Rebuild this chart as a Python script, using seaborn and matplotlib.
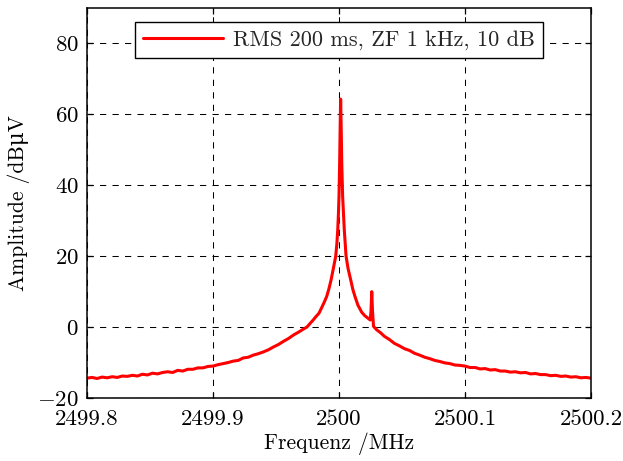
import matplotlib
matplotlib.use("Agg")
import matplotlib.pyplot as plt
import seaborn as sns
import pandas as pd

# Measured spectrum around the 2.5 GHz carrier (frequency in MHz, level in dBµV)
freq_left = [
    2499.800, 2499.804, 2499.808, 2499.812, 2499.816, 2499.820, 2499.824, 2499.828,
    2499.832, 2499.836, 2499.840, 2499.844, 2499.848, 2499.852, 2499.856, 2499.860,
    2499.864, 2499.868, 2499.872, 2499.876, 2499.880, 2499.884, 2499.888, 2499.892,
    2499.896, 2499.900, 2499.904, 2499.908, 2499.912, 2499.916, 2499.920, 2499.924,
    2499.928, 2499.932, 2499.936, 2499.940, 2499.944, 2499.948, 2499.952, 2499.956,
    2499.960, 2499.964, 2499.968, 2499.972, 2499.9745, 2499.9770, 2499.9795, 2499.9818,
    2499.9841, 2499.9860, 2499.9880, 2499.9902, 2499.9920, 2499.9937, 2499.9955,
    2499.9974, 2499.9983, 2499.9990, 2499.99955,
]
level_left = [
    -14.4, -14.2, -14.5, -14.1, -14.3, -14.0, -14.2, -13.8,
    -13.9, -13.6, -13.8, -13.3, -13.5, -13.0, -13.2, -12.8,
    -12.6, -12.8, -12.2, -12.4, -11.9, -11.9, -11.5, -11.5,
    -11.1, -11.0, -10.6, -10.3, -10.0, -9.6, -9.4, -8.7,
    -8.5, -7.9, -7.5, -7.0, -6.4, -5.6, -4.9, -4.0,
    -3.2, -2.2, -1.4, -0.5, 0.0, 1.0, 2.0, 3.0,
    3.9, 5.3, 6.8, 8.6, 10.8, 13.3, 16.5,
    20.0, 23.5, 27.4, 32.0,
]

freq_peak = [
    2500.0000, 2500.0005, 2500.0010, 2500.0013, 2500.0017, 2500.0022, 2500.0029,
    2500.0042, 2500.0056, 2500.0072, 2500.0093, 2500.0110, 2500.0127, 2500.0150,
    2500.0180, 2500.0205, 2500.0230, 2500.0248, 2500.0254, 2500.0260, 2500.0266,
    2500.0274,
]
level_peak = [
    36.8, 46.0, 58.0, 64.3, 57.0, 46.0, 36.8,
    27.4, 20.0, 16.5, 13.3, 10.6, 8.6, 6.2,
    4.2, 3.2, 2.5, 2.0, 4.5, 10.0, 4.5,
    0.2,
]

freq_right = [
    2500.030, 2500.033, 2500.036, 2500.040, 2500.044, 2500.048, 2500.052, 2500.056,
    2500.060, 2500.064, 2500.068, 2500.072, 2500.076, 2500.080, 2500.084, 2500.088,
    2500.092, 2500.096, 2500.100, 2500.104, 2500.108, 2500.112, 2500.116, 2500.120,
    2500.124, 2500.128, 2500.132, 2500.136, 2500.140, 2500.144, 2500.148, 2500.152,
    2500.156, 2500.160, 2500.164, 2500.168, 2500.172, 2500.176, 2500.180, 2500.184,
    2500.188, 2500.192, 2500.196, 2500.200,
]
level_right = [
    -0.8, -1.6, -2.6, -3.5, -4.6, -5.3, -6.1, -6.6,
    -7.4, -7.9, -8.5, -8.9, -9.4, -9.7, -10.1, -10.3,
    -10.7, -10.8, -11.0, -11.4, -11.4, -11.8, -11.7, -12.1,
    -12.0, -12.4, -12.4, -12.7, -12.6, -12.9, -12.8, -13.2,
    -13.1, -13.4, -13.4, -13.7, -13.6, -13.9, -13.8, -14.1,
    -14.0, -14.3, -14.2, -14.4,
]

series_label = "RMS 200 ms, ZF 1 kHz, 10 dB"
x_ticks = [2499.8, 2499.9, 2500.0, 2500.1, 2500.2]
x_tick_labels = ["2499.8", "2499.9", "2500", "2500.1", "2500.2"]
y_ticks = [-20, 0, 20, 40, 60, 80]
y_tick_labels = [r"$-20$", r"$0$", r"$20$", r"$40$", r"$60$", r"$80$"]

df = pd.DataFrame({
    "freq": freq_left + freq_peak + freq_right,
    "level": level_left + level_peak + level_right,
})

sns.set_theme(style="white")
plt.rcParams["font.family"] = ["cmr10", "DejaVu Serif"]
plt.rcParams["mathtext.fontset"] = "cm"
plt.rcParams["axes.formatter.use_mathtext"] = True
plt.rcParams["axes.unicode_minus"] = False

fig = plt.figure(figsize=(6.23, 4.61), dpi=100)
ax = fig.add_axes([87 / 623, 63 / 461, 504 / 623, 390 / 461])

sns.lineplot(data=df, x="freq", y="level", ax=ax, color="#ff0000",
             linewidth=2.2, label=series_label, sort=False)

ax.set_xlim(2499.8, 2500.2)
ax.set_ylim(-20, 90)
ax.set_xticks(x_ticks)
ax.set_xticklabels(x_tick_labels)
ax.set_yticks(y_ticks)
ax.set_yticklabels(y_tick_labels)

ax.grid(True, color="black", linestyle=(0, (6, 6)), linewidth=0.75)
ax.set_axisbelow(True)
for s in ax.spines.values():
    s.set_visible(True)
    s.set_color("black")
    s.set_linewidth(1.1)
ax.tick_params(direction="in", length=4, width=0.9, color="black",
               top=True, right=True, bottom=True, left=True,
               labelsize=16.5, labelcolor="black")
ax.tick_params(axis="x", pad=8)
ax.tick_params(axis="y", pad=6)

ax.set_xlabel("Frequenz /MHz", fontsize=15.5, color="black", labelpad=3)
ax.set_ylabel("Amplitude /dB\u03bcV", fontsize=15.5, color="black", labelpad=5)

leg = ax.legend(loc="upper center", bbox_to_anchor=(0.5, 0.964), borderaxespad=0,
                fontsize=16, frameon=True, fancybox=False, framealpha=1,
                edgecolor="black", handlelength=3.6, borderpad=0.35,
                handletextpad=0.45)
leg.get_frame().set_linewidth(1.0)

fig.savefig("out.png", dpi=100)
